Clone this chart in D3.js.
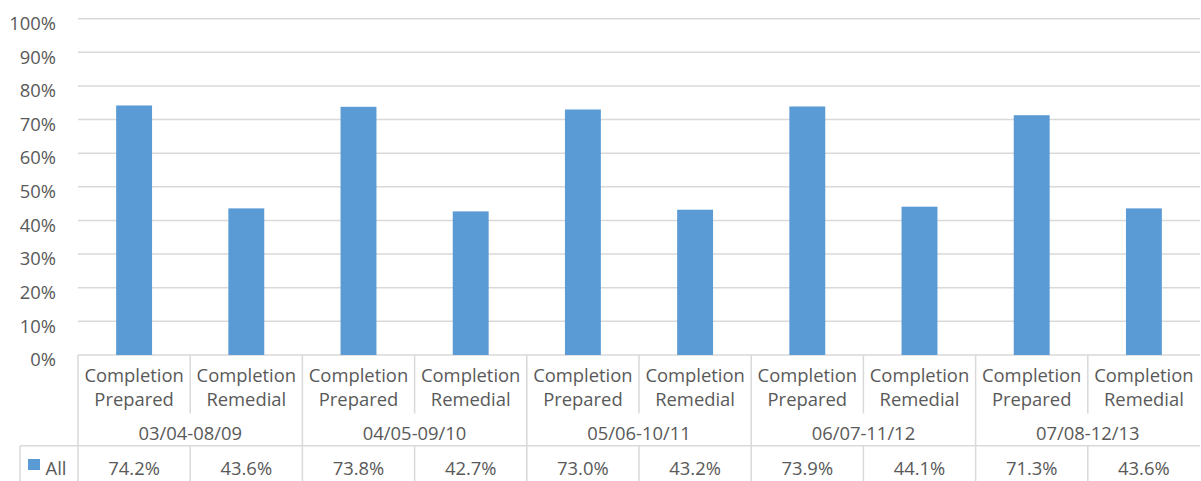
<!DOCTYPE html>
<html>
<head>
<meta charset="utf-8">
<script src="https://cdn.jsdelivr.net/npm/d3@7"></script>
<style>
  html, body { margin: 0; padding: 0; background: #fff; }
  svg { display: block; }
  text { font-family: "Open Sans", sans-serif; fill: #595959; }
</style>
</head>
<body>
<svg id="chart" width="1201" height="481"></svg>
<script>
// Completion rates by cohort period
const periods = ["03/04-08/09", "04/05-09/10", "05/06-10/11", "06/07-11/12", "07/08-12/13"];
const tracks = ["Completion Prepared", "Completion Remedial"];
const seriesName = "All";
const values = [74.2, 43.6, 73.8, 42.7, 73.0, 43.2, 73.9, 44.1, 71.3, 43.6];
const yTicks = [0, 10, 20, 30, 40, 50, 60, 70, 80, 90, 100];

(function () {
  const svg = d3.select("#chart");
  const plotLeft = 78, plotRight = 1200, plotTop = 18.7, plotBottom = 355;
  const blue = "#5B9BD5", grid = "#D9D9D9";
  const fs = 18.4;

  // one column per period/track pair
  const cols = [];
  periods.forEach((p, i) => tracks.forEach((t, j) => cols.push({ period: p, track: t, value: values[i * tracks.length + j], key: i + "-" + j })));

  const y = d3.scaleLinear().domain([0, 100]).range([plotBottom, plotTop]);
  const xCol = d3.scaleBand().domain(cols.map(d => d.key)).range([plotLeft, plotRight]).padding(0);
  const xBar = d3.scaleBand().domain(cols.map(d => d.key)).range([plotLeft, plotRight]).paddingInner(0.68).paddingOuter(0.34);
  const xGroup = d3.scaleBand().domain(periods).range([plotLeft, plotRight]).padding(0);

  // gridlines
  svg.append("g").selectAll("line").data(yTicks).join("line")
    .attr("x1", plotLeft).attr("x2", plotRight)
    .attr("y1", d => y(d)).attr("y2", d => y(d))
    .attr("stroke", grid).attr("stroke-width", 1.5);

  // y axis labels
  const yAxis = d3.axisLeft(y).tickValues(yTicks).tickFormat(d => d + "%").tickSize(0).tickPadding(0);
  const ya = svg.append("g").attr("transform", "translate(56,0)").call(yAxis);
  ya.select(".domain").remove();
  ya.selectAll("text").attr("font-size", fs).attr("font-family", "Open Sans, sans-serif")
    .attr("fill", "#595959").attr("dy", "0.58em").attr("x", 0);

  // bars
  svg.append("g").selectAll("rect").data(cols).join("rect")
    .attr("x", d => xBar(d.key)).attr("width", xBar.bandwidth())
    .attr("y", d => y(d.value)).attr("height", d => y(0) - y(d.value))
    .attr("fill", blue);

  // data table lines
  const tl = svg.append("g").attr("stroke", grid).attr("stroke-width", 1.5);
  const rowSep = 445.7;
  cols.forEach((d, i) => {
    const x0 = xCol(d.key);
    const groupStart = i % tracks.length === 0;
    if (groupStart) {
      tl.append("line").attr("x1", x0).attr("x2", x0).attr("y1", plotBottom).attr("y2", 481);
    } else {
      // inner divider skips the period-label row
      tl.append("line").attr("x1", x0).attr("x2", x0).attr("y1", plotBottom).attr("y2", 413.5);
      tl.append("line").attr("x1", x0).attr("x2", x0).attr("y1", rowSep).attr("y2", 481);
    }
  });
  tl.append("line").attr("x1", 20).attr("x2", plotRight).attr("y1", rowSep).attr("y2", rowSep);
  tl.append("line").attr("x1", 20).attr("x2", 20).attr("y1", rowSep).attr("y2", 481);

  // track labels (two lines)
  const tg = svg.append("g").attr("text-anchor", "middle").attr("font-size", fs);
  cols.forEach(d => {
    const cx = xCol(d.key) + xCol.bandwidth() / 2;
    const parts = d.track.split(" ");
    tg.append("text").attr("x", cx).attr("y", 381.5).text(parts[0]);
    tg.append("text").attr("x", cx).attr("y", 405.5).text(parts[1]);
  });

  // period labels
  svg.append("g").attr("text-anchor", "middle").attr("font-size", fs)
    .selectAll("text").data(periods).join("text")
    .attr("x", d => xGroup(d) + xGroup.bandwidth() / 2).attr("y", 440)
    .text(d => d);

  // value row
  svg.append("g").attr("text-anchor", "middle").attr("font-size", fs)
    .selectAll("text").data(cols).join("text")
    .attr("x", d => xCol(d.key) + xCol.bandwidth() / 2).attr("y", 475)
    .text(d => d.value.toFixed(1) + "%");

  // legend key
  svg.append("rect").attr("x", 28).attr("y", 459).attr("width", 12).attr("height", 11).attr("fill", blue);
  svg.append("text").attr("x", 45.5).attr("y", 475).attr("font-size", fs).text(seriesName);
})();
</script>
</body>
</html>
